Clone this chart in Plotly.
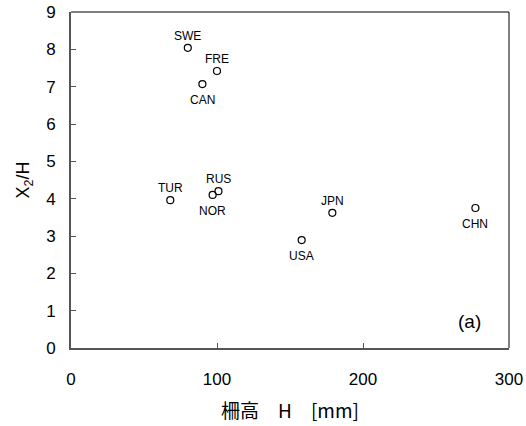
import plotly.graph_objects as go

# Country data: fence height H [mm] and X2/H
countries = ["SWE", "FRE", "CAN", "TUR", "RUS", "NOR", "JPN", "USA", "CHN"]
height_mm = [80, 100, 90, 68, 101, 97, 179, 158, 277]
x2_over_h = [8.04, 7.42, 7.07, 3.96, 4.2, 4.1, 3.62, 2.89, 3.75]
label_above = [True, True, False, True, True, False, True, False, False]

x_ticks = [0, 100, 200, 300]
y_ticks = [0, 1, 2, 3, 4, 5, 6, 7, 8, 9]

font_family = "Liberation Sans, Arial, sans-serif"
cjk_family = "Noto Sans CJK JP, Liberation Sans, sans-serif"

fig = go.Figure()
fig.add_trace(go.Scatter(
    x=height_mm, y=x2_over_h, mode="markers",
    marker=dict(symbol="circle-open", size=7, color="black", line=dict(width=1.2)),
    cliponaxis=False, showlegend=False,
))

# country labels above or below each marker
for name, hx, hy, above in zip(countries, height_mm, x2_over_h, label_above):
    fig.add_annotation(
        x=hx, y=hy, xref="x", yref="y", text=name, showarrow=False,
        yanchor="middle", yshift=12 if above else -16,
        font=dict(size=12, color="black", family=font_family),
    )

fig.add_annotation(x=0.94, y=0.08, xref="paper", yref="paper", text="(a)",
                   showarrow=False, xanchor="right", yanchor="middle",
                   font=dict(size=19, color="black", family=font_family))

fig.update_layout(
    width=526, height=426,
    margin=dict(l=71, r=17, t=12, b=78),
    paper_bgcolor="white", plot_bgcolor="white",
    font=dict(family=font_family, color="black"),
)
fig.update_xaxes(
    range=[0, 300], tickvals=x_ticks, ticks="inside", ticklen=5, tickcolor="#555",
    showline=True, linecolor="#555", linewidth=2, mirror=False, showgrid=False, zeroline=False,
    automargin=False,
    tickfont=dict(size=17), ticklabelstandoff=15,
    title=dict(text="柵高　H　[mm]", font=dict(size=19, family=cjk_family), standoff=16),
)
fig.update_yaxes(
    range=[0, 9], tickvals=y_ticks, ticks="inside", ticklen=5, tickcolor="#555",
    showline=True, linecolor="#555", linewidth=2, mirror=False, showgrid=False, zeroline=False,
    automargin=False,
    tickfont=dict(size=17), ticklabelstandoff=10,
    title=dict(text="X<sub>2</sub>/H", font=dict(size=18), standoff=12),
)
# thin top and right frame lines
fig.add_shape(type="line", xref="paper", yref="paper", x0=0, x1=1, y0=1, y1=1,
              line=dict(color="black", width=1))
fig.add_shape(type="line", xref="paper", yref="paper", x0=1, x1=1, y0=0, y1=1,
              line=dict(color="black", width=1))

fig.write_html("out.html")
